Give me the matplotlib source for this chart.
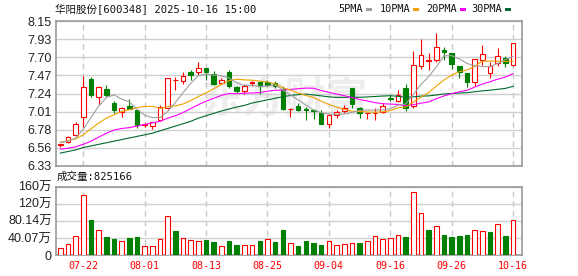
import matplotlib
matplotlib.use('Agg')
import matplotlib.pyplot as plt
from matplotlib.patches import Rectangle
import numpy as np

# ---------------- data ----------------
tick_pos = [3, 11, 19, 27, 35, 43, 51, 59]
tick_labels = ['07-22', '08-01', '08-13', '08-25', '09-04', '09-16', '09-26', '10-16']

opens = [6.59, 6.63, 6.72, 6.94, 7.42, 7.20, 7.30, 7.12, 7.01, 7.08,
         7.03, 6.84, 6.83, 6.91, 7.06, 7.41, 7.40, 7.51, 7.51, 7.56,
         7.49, 7.37, 7.51, 7.32, 7.27, 7.37, 7.39, 7.38, 7.37, 7.30,
         7.04, 7.08, 7.04, 7.03, 7.00, 6.86, 6.975, 7.02, 7.31, 7.06,
         6.99, 6.99, 7.01, 7.18, 7.14, 7.31, 7.08, 7.59, 7.65, 7.665,
         7.79, 7.75, 7.58, 7.50, 7.38, 7.665, 7.50, 7.62, 7.69, 7.60]
highs = [6.61, 6.71, 6.88, 7.46, 7.45, 7.34, 7.35, 7.15, 7.07, 7.17,
         7.03, 6.87, 6.88, 7.09, 7.44, 7.45, 7.51, 7.53, 7.64, 7.56,
         7.52, 7.44, 7.53, 7.34, 7.36, 7.40, 7.40, 7.41, 7.40, 7.33,
         7.06, 7.12, 7.07, 7.05, 7.03, 6.98, 7.03, 7.09, 7.31, 7.07,
         7.00, 7.06, 7.12, 7.22, 7.28, 7.36, 7.77, 7.93, 7.75, 8.00,
         7.83, 7.75, 7.58, 7.50, 7.675, 7.85, 7.64, 7.81, 7.71, 7.875]
lows = [6.57, 6.62, 6.71, 6.82, 7.19, 7.09, 7.19, 6.99, 6.94, 7.04,
        6.80, 6.82, 6.79, 6.90, 7.05, 7.29, 7.36, 7.41, 7.47, 7.41,
        7.35, 7.36, 7.31, 7.25, 7.23, 7.34, 7.23, 7.33, 7.31, 7.03,
        6.94, 7.02, 6.91, 6.92, 6.85, 6.80, 6.93, 6.99, 7.06, 6.93,
        6.92, 6.91, 6.99, 7.15, 7.13, 7.02, 7.06, 7.55, 7.53, 7.64,
        7.665, 7.55, 7.43, 7.32, 7.34, 7.60, 7.43, 7.59, 7.57, 7.59]
closes = [6.60, 6.69, 6.86, 7.32, 7.22, 7.32, 7.22, 7.03, 7.06, 7.05,
          6.84, 6.85, 6.88, 7.07, 7.43, 7.41, 7.46, 7.47, 7.56, 7.51,
          7.36, 7.41, 7.33, 7.27, 7.33, 7.38, 7.34, 7.35, 7.33, 7.04,
          7.045, 7.035, 7.03, 7.02, 6.855, 6.97, 7.01, 7.06, 7.11, 6.99,
          6.995, 7.00, 7.08, 7.17, 7.22, 7.06, 7.60, 7.72, 7.66, 7.83,
          7.76, 7.615, 7.51, 7.38, 7.67, 7.735, 7.59, 7.71, 7.63, 7.87]

ma5 = [6.62, 6.64, 6.68, 6.79, 6.938, 7.082, 7.188, 7.222, 7.17, 7.136,
       7.04, 6.966, 6.936, 6.938, 7.014, 7.128, 7.25, 7.368, 7.466, 7.482,
       7.472, 7.462, 7.434, 7.376, 7.34, 7.344, 7.33, 7.334, 7.346, 7.288,
       7.221, 7.16, 7.096, 7.034, 6.997, 6.982, 6.977, 6.983, 7.001, 7.028,
       7.033, 7.031, 7.035, 7.047, 7.093, 7.106, 7.226, 7.354, 7.452, 7.574,
       7.714, 7.717, 7.675, 7.619, 7.587, 7.582, 7.577, 7.617, 7.667, 7.707]
ma10 = [6.628, 6.645, 6.67, 6.72, 6.796, 6.867, 6.93, 6.972, 7.014, 7.037,
        7.061, 7.077, 7.079, 7.054, 7.075, 7.084, 7.108, 7.152, 7.202, 7.248,
        7.30, 7.356, 7.401, 7.421, 7.411, 7.408, 7.396, 7.384, 7.361, 7.314,
        7.283, 7.245, 7.215, 7.19, 7.143, 7.102, 7.069, 7.04, 7.018, 7.013,
        7.008, 7.004, 7.009, 7.024, 7.061, 7.07, 7.129, 7.195, 7.25, 7.334,
        7.41, 7.472, 7.515, 7.536, 7.581, 7.648, 7.647, 7.646, 7.643, 7.647]
ma20 = [6.54, 6.55, 6.57, 6.60, 6.64, 6.69, 6.74, 6.78, 6.80, 6.81,
        6.83, 6.85, 6.87, 6.89, 6.93, 6.96, 7.00, 7.05, 7.10, 7.143,
        7.18, 7.217, 7.24, 7.238, 7.243, 7.246, 7.252, 7.268, 7.282, 7.281,
        7.292, 7.30, 7.308, 7.306, 7.277, 7.255, 7.233, 7.212, 7.19, 7.164,
        7.146, 7.125, 7.112, 7.107, 7.102, 7.086, 7.099, 7.118, 7.134, 7.174,
        7.209, 7.238, 7.262, 7.28, 7.321, 7.359, 7.388, 7.42, 7.447, 7.49]
ma30 = [6.49, 6.51, 6.53, 6.56, 6.58, 6.60, 6.62, 6.64, 6.66, 6.68,
        6.70, 6.72, 6.74, 6.77, 6.80, 6.83, 6.86, 6.89, 6.93, 6.96,
        6.99, 7.02, 7.045, 7.07, 7.09, 7.12, 7.14, 7.16, 7.18, 7.20,
        7.215, 7.226, 7.232, 7.222, 7.21, 7.198, 7.191, 7.192, 7.194, 7.192,
        7.197, 7.202, 7.208, 7.212, 7.205, 7.193, 7.198, 7.207, 7.21, 7.221,
        7.234, 7.24, 7.246, 7.25, 7.262, 7.273, 7.282, 7.293, 7.304, 7.331]

# volume in units of 万 (10k shares)
volumes = [15.4, 24.7, 45.5, 141.0, 81.0, 59.4, 41.6, 37.0, 32.4, 39.3,
           41.6, 20.8, 20.8, 38.6, 92.5, 55.5, 40.9, 34.7, 32.4, 34.7,
           30.0, 20.0, 32.4, 23.1, 23.1, 23.1, 32.4, 38.6, 30.8, 57.8,
           27.0, 20.8, 32.4, 27.8, 23.1, 32.4, 22.4, 24.7, 29.3, 27.8,
           32.4, 45.5, 38.6, 40.9, 47.8, 41.6, 147.0, 98.7, 57.8, 68.6,
           46.3, 41.6, 43.9, 46.3, 59.4, 57.0, 53.2, 73.2, 43.9, 82.5166]

price_ticks = ['6.33', '6.56', '6.78', '7.01', '7.24', '7.47', '7.70', '7.93', '8.15']
vol_tick_vals = [0, 40.07, 80.14, 120.21, 160.28]
vol_tick_labels = ['0', '40.07万', '80.14万', '120万', '160万']

title = '华阳股份[600348] 2025-10-16 15:00'
vol_title = '成交量:825166'
ma_names = ['5PMA', '10PMA', '20PMA', '30PMA']

# ---------------- style ----------------
RED = '#ff0000'
GREEN = '#008000'
MA_COLORS = ['#a0a0a0', '#f0a000', '#ff00ff', '#006b30']
FRAME = '#999999'
GRID = '#d0d0d0'
W, H = 578, 276
LW = 0.8

fig = plt.figure(figsize=(W / 100, H / 100), dpi=100)
fig.patch.set_facecolor('white')

def fx(px):
    return px / W

def fy(py):
    return 1 - py / H

ax = fig.add_axes([fx(56), fy(165.8), fx(466), 144.6 / H])
axv = fig.add_axes([fx(56), fy(255), fx(466), 68.3 / H])

n = len(closes)
x = np.arange(n)
xlim = (-0.56, 60.17)

# watermark
ax.text(0.49, 0.46, '东方财富', transform=ax.transAxes, ha='center', va='center',
        fontsize=30, fontweight='bold', color='#eeeeee', zorder=0.5,
        family=['Noto Sans CJK SC'])

# candles
up = [c >= o for o, c in zip(opens, closes)]
cols = [RED if u else GREEN for u in up]
ax.vlines(x, lows, highs, colors=cols, linewidth=LW, zorder=2)
bottoms = [min(o, c) for o, c in zip(opens, closes)]
heights = [abs(c - o) for o, c in zip(opens, closes)]
faces = ['white' if u else GREEN for u in up]
ax.bar(x, heights, bottom=bottoms, width=0.6, facecolor=faces, edgecolor=cols,
       linewidth=LW, zorder=3)

# moving averages
for vals, col in zip([ma30, ma20, ma10, ma5], MA_COLORS[::-1]):
    ax.plot(x, vals, color=col, linewidth=LW, zorder=4)

ymin, ymax = 6.33, 8.15
ax.set_ylim(ymin, ymax)
ax.set_xlim(*xlim)
ax.set_yticks(np.linspace(ymin, ymax, 9))
ax.set_yticklabels(price_ticks)
ax.set_xticks(tick_pos)
ax.set_xticklabels([])
ax.grid(axis='y', color=GRID, linewidth=1.0, linestyle='-', zorder=0)
ax.grid(axis='x', color='#c8c8c8', linewidth=1.0, linestyle=(0, (4, 3)), zorder=0)
ax.set_axisbelow(True)

# volume
vol_up = [True] + [c >= p for p, c in zip(closes[:-1], closes[1:])]
vcols = [RED if u else GREEN for u in vol_up]
vfaces = ['white' if u else GREEN for u in vol_up]
axv.bar(x, volumes, width=0.6, facecolor=vfaces, edgecolor=vcols, linewidth=LW, zorder=3)
axv.set_xlim(*xlim)
axv.set_ylim(0, vol_tick_vals[-1])
axv.set_yticks(vol_tick_vals)
axv.set_yticklabels(vol_tick_labels)
axv.set_xticks(tick_pos)
axv.set_xticklabels(tick_labels)
axv.grid(axis='y', color=GRID, linewidth=1.0, linestyle='-', zorder=0)
axv.grid(axis='x', color='#c8c8c8', linewidth=1.0, linestyle=(0, (4, 3)), zorder=0)
axv.set_axisbelow(True)

for a in (ax, axv):
    for s in a.spines.values():
        s.set_color(FRAME)
        s.set_linewidth(1.2)
    a.tick_params(axis='both', length=0, pad=3)
    for lab in a.get_yticklabels():
        lab.set_family(['Liberation Sans', 'Noto Sans CJK SC'])
        lab.set_fontsize(9)
        lab.set_color('#222222')

for lab in axv.get_xticklabels():
    lab.set_family(['DejaVu Sans Mono'])
    lab.set_fontsize(7.2)
    lab.set_color(RED)
axv.tick_params(axis='x', pad=4)

# texts
fig.text(fx(55), fy(10), title, ha='left', va='center', fontsize=7.6,
         family=['DejaVu Sans Mono', 'Noto Sans CJK SC'], color='#111111')
fig.text(fx(57), fy(176.5), vol_title, ha='left', va='center', fontsize=7.6,
         family=['DejaVu Sans Mono', 'Noto Sans CJK SC'], color='#111111')

# legend
label_x = [338.3, 380, 425.7, 471.7]
square_x = [366, 413, 460, 505]
for name, lx, sx, col in zip(ma_names, label_x, square_x, MA_COLORS):
    fig.text(fx(lx), fy(9), name, ha='left', va='center', fontsize=7.4,
             family=['DejaVu Sans Mono'], color='#111111')
    fig.patches.append(Rectangle((fx(sx), fy(11)), fx(6), 3.5 / H,
                                 transform=fig.transFigure, facecolor=col,
                                 edgecolor='none'))

fig.savefig('out.png', dpi=100, facecolor='white')
